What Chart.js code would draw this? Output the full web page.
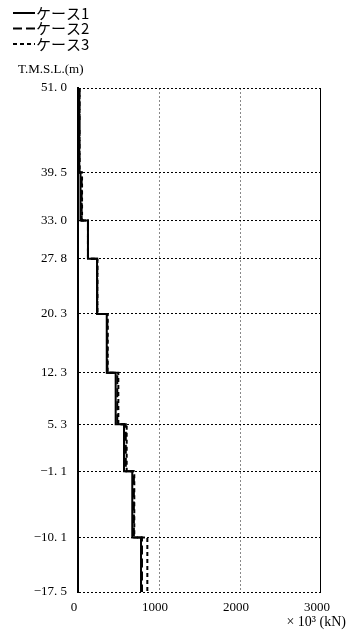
<!DOCTYPE html>
<html>
<head>
<meta charset="utf-8">
<script src="https://cdn.jsdelivr.net/npm/chart.js@4/dist/chart.umd.min.js"></script>
<style>
  html, body { margin: 0; padding: 0; background: #fff; }
  #wrap { width: 348px; height: 637px; position: relative; }
</style>
</head>
<body>
<div id="wrap"><canvas id="chart"></canvas></div>
<script>
// elevation boundaries (T.M.S.L. m), top to bottom
const LEVELS = [51.0, 39.5, 33.0, 27.8, 20.3, 12.3, 5.3, -1.1, -10.1, -17.5];
// axial force per layer (x10^3 kN), one value between each pair of levels
const CASE1 = [16, 31, 123, 235, 355, 465, 568, 670, 778];
const CASE2 = [18, 45, 123, 238, 362, 485, 590, 690, 790];
const CASE3 = [18, 50, 123, 240, 367, 498, 601, 695, 856];
const X_TICKS = [0, 1000, 2000, 3000];
const NAMES = ["ケース1", "ケース2", "ケース3"];
const DASHES = [[], [9, 4], [4, 3]];

const SERIF = "'Liberation Serif', 'DejaVu Serif', serif";
const JP = "'Noto Sans CJK JP', sans-serif";

function stepPoints(vals) {
  const pts = [];
  vals.forEach((v, i) => {
    pts.push({ x: v, y: LEVELS[i] });
    pts.push({ x: v, y: LEVELS[i + 1] });
  });
  return pts;
}

// legend, axis titles, right frame
const extras = {
  id: "extras",
  afterDraw(chart) {
    const ctx = chart.ctx;
    const a = chart.chartArea;
    ctx.save();
    ctx.strokeStyle = "#000";
    ctx.lineWidth = 1;
    ctx.beginPath();
    ctx.moveTo(a.right - 0.5, a.top);
    ctx.lineTo(a.right - 0.5, a.bottom);
    ctx.stroke();

    NAMES.forEach((name, i) => {
      const y = 13 + i * 15.5;
      ctx.lineWidth = 2;
      ctx.setLineDash(DASHES[i]);
      ctx.beginPath();
      ctx.moveTo(13, y);
      ctx.lineTo(35, y);
      ctx.stroke();
      ctx.setLineDash([]);
      ctx.fillStyle = "#000";
      ctx.font = "15px " + JP;
      ctx.textBaseline = "middle";
      ctx.textAlign = "left";
      ctx.fillText(name, 36, y);
    });

    ctx.font = "13px " + SERIF;
    ctx.textAlign = "left";
    ctx.fillText("T.M.S.L.(m)", 18, 70);

    ctx.font = "14px " + SERIF;
    ctx.textAlign = "right";
    ctx.fillText("× 10³ (kN)", 346, 622);
    ctx.restore();
  }
};

new Chart(document.getElementById("chart"), {
  type: "line",
  data: {
    datasets: [CASE1, CASE2, CASE3].map((vals, i) => ({
      label: NAMES[i],
      data: stepPoints(vals),
      borderColor: "#000",
      borderWidth: 2,
      borderDash: DASHES[i],
      pointRadius: 0,
      fill: false,
      tension: 0
    }))
  },
  options: {
    responsive: true,
    maintainAspectRatio: false,
    animation: false,
    layout: { padding: { top: 88, right: 27, left: 0, bottom: 0 } },
    plugins: {
      legend: { display: false },
      tooltip: { enabled: false }
    },
    scales: {
      x: {
        type: "linear",
        min: 0,
        max: 3000,
        afterBuildTicks: axis => { axis.ticks = X_TICKS.map(v => ({ value: v })); },
        afterFit: axis => { axis.height = 45; },
        grid: {
          drawTicks: false,
          color: c => (c.tick && (c.tick.value === 1000 || c.tick.value === 2000)) ? "#888" : "rgba(0,0,0,0)",
          lineWidth: 1
        },
        border: { display: false, dash: [2, 2] },
        ticks: {
          padding: 8,
          labelOffset: -4,
          color: "#000",
          font: { family: SERIF, size: 13 },
          callback: v => String(v)
        }
      },
      y: {
        type: "linear",
        min: -17.5,
        max: 51.0,
        afterBuildTicks: axis => { axis.ticks = LEVELS.map(v => ({ value: v })); },
        afterFit: axis => { axis.width = 78; },
        grid: {
          drawTicks: false,
          color: "#000",
          lineWidth: 1
        },
        border: { display: true, color: "#000", width: 2, dash: [2, 2] },
        ticks: {
          padding: 11,
          color: "#000",
          font: { family: SERIF, size: 13 },
          callback: v => (v < 0 ? "−" : "") + Math.abs(v).toFixed(1).replace(".", ". ")
        }
      }
    }
  },
  plugins: [extras]
});
</script>
</body>
</html>
